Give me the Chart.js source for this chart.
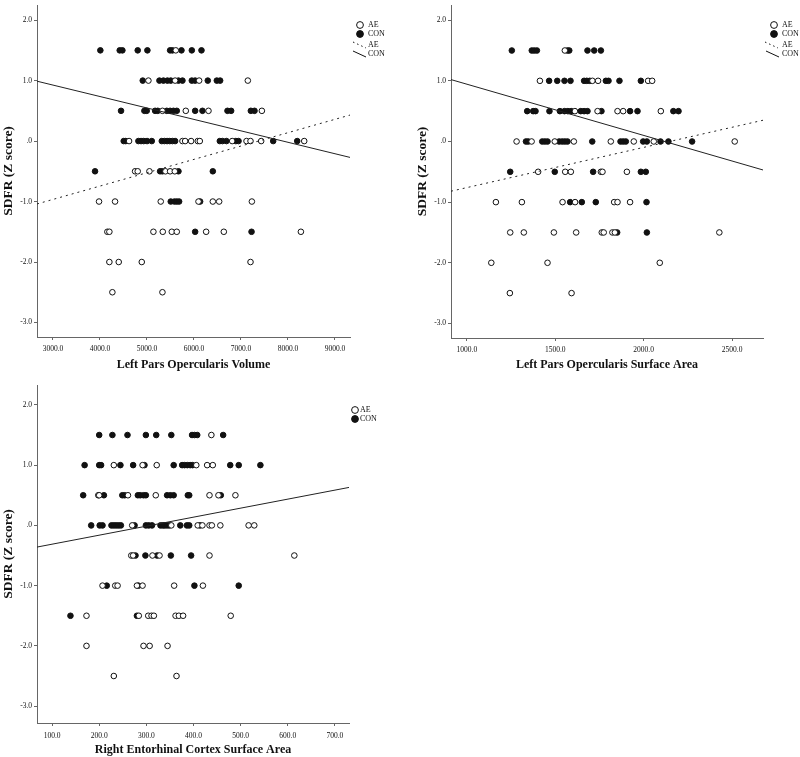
<!DOCTYPE html>
<html>
<head>
<meta charset="utf-8">
<script src="https://cdn.jsdelivr.net/npm/chart.js@4.4.1/dist/chart.umd.min.js"></script>
<style>
  body { margin: 0; background: #fff; }
  .panel { position: absolute; }
</style>
</head>
<body>
<div class="panel" style="left:0;top:0"><canvas id="c1" width="400" height="380"></canvas></div>
<div class="panel" style="left:400px;top:0"><canvas id="c2" width="400" height="380"></canvas></div>
<div class="panel" style="left:0;top:380px"><canvas id="c3" width="400" height="377"></canvas></div>
<script>
// ---- data: [x, SDFR z score] ----
const yTicks = [-3, -2, -1, 0, 1, 2];

// Left Pars Opercularis Volume
const volTicks = [3000, 4000, 5000, 6000, 7000, 8000, 9000];
const volAE = [
  [5613, 1.5],
  [5031, 1], [5599, 1], [6110, 1], [7146, 1],
  [5329, 0.5], [5826, 0.5], [6309, 0.5], [7445, 0.5],
  [4619, 0], [5755, 0], [5812, 0], [5939, 0], [6081, 0], [6124, 0], [6813, 0], [7118, 0], [7203, 0], [7430, 0], [8346, 0],
  [4747, -0.5], [4803, -0.5], [5052, -0.5], [5393, -0.5], [5492, -0.5], [5592, -0.5],
  [3980, -1], [4321, -1], [5293, -1], [6096, -1], [6401, -1], [6536, -1], [7232, -1],
  [4157, -1.5], [4200, -1.5], [5137, -1.5], [5336, -1.5], [5528, -1.5], [5634, -1.5], [6259, -1.5], [6635, -1.5], [8275, -1.5],
  [4200, -2], [4399, -2], [4889, -2], [7203, -2],
  [4264, -2.5], [5329, -2.5]
];
const volCON = [
  [4008, 1.5], [4420, 1.5], [4477, 1.5], [4803, 1.5], [5009, 1.5], [5492, 1.5], [5542, 1.5], [5734, 1.5], [5954, 1.5], [6160, 1.5],
  [4910, 1], [5265, 1], [5350, 1], [5435, 1], [5506, 1], [5670, 1], [5755, 1], [5954, 1], [6025, 1], [6294, 1], [6486, 1], [6557, 1],
  [4448, 0.5], [4945, 0.5], [4995, 0.5], [5173, 0.5], [5229, 0.5], [5421, 0.5], [5492, 0.5], [5563, 0.5], [5634, 0.5], [6025, 0.5], [6181, 0.5], [6713, 0.5], [6791, 0.5], [7210, 0.5], [7288, 0.5],
  [4505, 0], [4548, 0], [4818, 0], [4874, 0], [4931, 0], [5002, 0], [5102, 0], [5315, 0], [5371, 0], [5428, 0], [5485, 0], [5542, 0], [5599, 0], [6550, 0], [6607, 0], [6692, 0], [6891, 0], [6948, 0], [7686, 0], [8197, 0],
  [3895, -0.5], [5279, -0.5], [5329, -0.5], [5670, -0.5], [6401, -0.5],
  [5506, -1], [5584, -1], [5634, -1], [5684, -1], [6131, -1],
  [6025, -1.5], [7225, -1.5]
];
const volFitAE = [[2660, -1.04], [9320, 0.43]];
const volFitCON = [[2660, 0.99], [9320, -0.27]];

// Left Pars Opercularis Surface Area
const areaTicks = [1000, 1500, 2000, 2500];
const areaAE = [
  [1554, 1.5],
  [1413, 1], [1710, 1], [1742, 1], [2025, 1], [2048, 1],
  [1611, 0.5], [1739, 0.5], [1852, 0.5], [1884, 0.5], [2097, 0.5],
  [1281, 0], [1366, 0], [1497, 0], [1605, 0], [1814, 0], [1944, 0], [2057, 0], [2515, 0],
  [1403, -0.5], [1556, -0.5], [1588, -0.5], [1758, -0.5], [1767, -0.5], [1905, -0.5],
  [1164, -1], [1311, -1], [1541, -1], [1612, -1], [1833, -1], [1852, -1], [1923, -1],
  [1245, -1.5], [1322, -1.5], [1492, -1.5], [1618, -1.5], [1763, -1.5], [1774, -1.5], [1823, -1.5], [1837, -1.5], [2428, -1.5],
  [1138, -2], [1456, -2], [2091, -2],
  [1243, -2.5], [1592, -2.5]
];
const areaCON = [
  [1254, 1.5], [1367, 1.5], [1381, 1.5], [1396, 1.5], [1569, 1.5], [1579, 1.5], [1682, 1.5], [1720, 1.5], [1758, 1.5],
  [1465, 1], [1511, 1], [1552, 1], [1586, 1], [1663, 1], [1678, 1], [1695, 1], [1786, 1], [1801, 1], [1863, 1], [1984, 1],
  [1341, 0.5], [1375, 0.5], [1388, 0.5], [1467, 0.5], [1526, 0.5], [1552, 0.5], [1571, 0.5], [1590, 0.5], [1644, 0.5], [1663, 0.5], [1682, 0.5], [1761, 0.5], [1923, 0.5], [1965, 0.5], [2168, 0.5], [2197, 0.5],
  [1334, 0], [1347, 0], [1426, 0], [1441, 0], [1456, 0], [1522, 0], [1539, 0], [1554, 0], [1569, 0], [1709, 0], [1869, 0], [1884, 0], [1899, 0], [1997, 0], [2018, 0], [2095, 0], [2140, 0], [2274, 0],
  [1245, -0.5], [1497, -0.5], [1714, -0.5], [1984, -0.5], [2012, -0.5],
  [1584, -1], [1650, -1], [1729, -1], [2016, -1],
  [1850, -1.5], [2018, -1.5]
];
const areaFitAE = [[910, -0.82], [2675, 0.35]];
const areaFitCON = [[910, 1.02], [2675, -0.47]];

// Right Entorhinal Cortex Surface Area
const entTicks = [100, 200, 300, 400, 500, 600, 700];
const entAE = [
  [438, 1.5],
  [231, 1], [292, 1], [322, 1], [406, 1], [429, 1], [441, 1],
  [198, 0.5], [200, 0.5], [261, 0.5], [320, 0.5], [434, 0.5], [453, 0.5], [489, 0.5],
  [270, 0], [353, 0], [409, 0], [419, 0], [434, 0], [439, 0], [457, 0], [517, 0], [529, 0],
  [268, -0.5], [272, -0.5], [313, -0.5], [328, -0.5], [434, -0.5], [614, -0.5],
  [207, -1], [234, -1], [239, -1], [280, -1], [292, -1], [359, -1], [420, -1],
  [173, -1.5], [284, -1.5], [304, -1.5], [311, -1.5], [316, -1.5], [362, -1.5], [369, -1.5], [378, -1.5], [479, -1.5],
  [173, -2], [294, -2], [307, -2], [345, -2],
  [231, -2.5], [364, -2.5]
];
const entCON = [
  [200, 1.5], [228, 1.5], [260, 1.5], [299, 1.5], [321, 1.5], [353, 1.5], [397, 1.5], [402, 1.5], [408, 1.5], [463, 1.5],
  [169, 1], [200, 1], [204, 1], [245, 1], [272, 1], [296, 1], [358, 1], [376, 1], [381, 1], [387, 1], [393, 1], [398, 1], [478, 1], [496, 1], [542, 1],
  [166, 0.5], [210, 0.5], [249, 0.5], [254, 0.5], [282, 0.5], [287, 0.5], [294, 0.5], [299, 0.5], [344, 0.5], [351, 0.5], [358, 0.5], [388, 0.5], [391, 0.5], [458, 0.5],
  [183, 0], [201, 0], [207, 0], [226, 0], [231, 0], [236, 0], [241, 0], [246, 0], [275, 0], [299, 0], [305, 0], [312, 0], [330, 0], [335, 0], [339, 0], [344, 0], [349, 0], [372, 0], [386, 0], [391, 0], [414, 0],
  [277, -0.5], [298, -0.5], [323, -0.5], [352, -0.5], [395, -0.5],
  [216, -1], [283, -1], [402, -1], [496, -1],
  [139, -1.5], [280, -1.5]
];
const entFit = [[68, -0.36], [730, 0.63]];

// ---- drawing ----
const serif = "'Liberation Serif', 'DejaVu Serif', serif";
const ink = '#111';
const axisGrey = '#666';

const fmt = v => {
  let s = Number(v).toFixed(1);
  if (s === '0.0' || s === '-0.0') s = '.0';
  return s;
};
const pts = arr => arr.map(p => ({ x: p[0], y: p[1] }));

function pointSet(label, arr, filled) {
  return {
    label: label,
    data: pts(arr),
    pointRadius: 2.8,
    pointBorderWidth: 1,
    pointBorderColor: ink,
    pointBackgroundColor: filled ? ink : '#fff',
    showLine: false
  };
}
function fitLine(label, arr, dashed) {
  return {
    label: label,
    data: pts(arr),
    showLine: true,
    borderColor: '#222',
    borderWidth: 1,
    borderDash: dashed ? [2, 4] : [],
    pointRadius: 0
  };
}

// hand drawn SPSS style key
function keyPlugin(items) {
  return {
    id: 'key',
    afterDraw(chart) {
      const c = chart.ctx;
      c.save();
      c.font = '8px ' + serif;
      c.fillStyle = ink;
      c.textBaseline = 'middle';
      items.forEach(it => {
        c.strokeStyle = ink;
        c.lineWidth = 1;
        if (it.kind === 'open' || it.kind === 'fill') {
          c.beginPath();
          c.arc(it.mx, it.y, 3.4, 0, Math.PI * 2);
          c.fillStyle = it.kind === 'fill' ? ink : '#fff';
          c.fill();
          c.stroke();
        } else {
          c.beginPath();
          c.setLineDash(it.kind === 'dash' ? [1.5, 3] : []);
          c.moveTo(it.mx - 7, it.y - 3);
          c.lineTo(it.mx + 6, it.y + 3);
          c.stroke();
          c.setLineDash([]);
        }
        c.fillStyle = ink;
        c.fillText(it.text, it.tx, it.y);
      });
      c.restore();
    }
  };
}

function makeChart(id, opt) {
  new Chart(document.getElementById(id), {
    type: 'scatter',
    data: { datasets: opt.datasets },
    options: {
      responsive: false,
      animation: false,
      layout: { padding: opt.padding },
      plugins: { legend: { display: false }, tooltip: { enabled: false } },
      scales: {
        x: {
          type: 'linear',
          min: opt.xmin, max: opt.xmax,
          afterBuildTicks: s => { s.ticks = opt.xticks.map(v => ({ value: v })); },
          afterFit: s => { s.height = opt.xHeight; },
          grid: { drawOnChartArea: false, drawTicks: true, tickLength: 3, color: axisGrey },
          border: { color: axisGrey, width: 1 },
          ticks: { font: { family: serif, size: 7.5 }, color: ink, padding: opt.tickPad, maxRotation: 0, callback: fmt },
          title: { display: true, text: opt.xtitle, color: ink, font: { family: serif, size: 12, weight: 'bold' }, padding: { top: 0, bottom: opt.titleGap } }
        },
        y: {
          type: 'linear',
          min: opt.ymin, max: opt.ymax,
          afterBuildTicks: s => { s.ticks = yTicks.map(v => ({ value: v })); },
          afterFit: s => { s.width = 37; s.paddingTop = 0; s.paddingBottom = 0; },
          grid: { drawOnChartArea: false, drawTicks: true, tickLength: 3, color: axisGrey },
          border: { color: axisGrey, width: 1 },
          ticks: { font: { family: serif, size: 7.5 }, color: ink, padding: 2, callback: fmt },
          title: { display: true, text: 'SDFR (Z score)', color: ink, font: { family: serif, size: 13.5, weight: 'bold' }, padding: { top: 0, bottom: 0 } }
        }
      }
    },
    plugins: [keyPlugin(opt.key)]
  });
}

makeChart('c1', {
  datasets: [fitLine('AE', volFitAE, true), fitLine('CON', volFitCON, false), pointSet('AE', volAE, false), pointSet('CON', volCON, true)],
  padding: { left: 0, right: 50, top: 0, bottom: 0 },
  xHeight: 43, tickPad: 5, titleGap: 8,
  xmin: 2660, xmax: 9320, ymin: -3.24, ymax: 2.25, xticks: volTicks,
  xtitle: 'Left Pars Opercularis Volume',
  key: [
    { kind: 'open', mx: 360, tx: 368, y: 25, text: 'AE' },
    { kind: 'fill', mx: 360, tx: 368, y: 34, text: 'CON' },
    { kind: 'dash', mx: 360, tx: 368, y: 45, text: 'AE' },
    { kind: 'solid', mx: 360, tx: 368, y: 54, text: 'CON' }
  ]
});

makeChart('c2', {
  datasets: [fitLine('AE', areaFitAE, true), fitLine('CON', areaFitCON, false), pointSet('AE', areaAE, false), pointSet('CON', areaCON, true)],
  padding: { left: 14, right: 37, top: 0, bottom: 0 },
  xHeight: 42, tickPad: 5, titleGap: 8,
  xmin: 910, xmax: 2675, ymin: -3.24, ymax: 2.25, xticks: areaTicks,
  xtitle: 'Left Pars Opercularis Surface Area',
  key: [
    { kind: 'open', mx: 374, tx: 382, y: 25, text: 'AE' },
    { kind: 'fill', mx: 374, tx: 382, y: 34, text: 'CON' },
    { kind: 'dash', mx: 372, tx: 382, y: 45, text: 'AE' },
    { kind: 'solid', mx: 373, tx: 382, y: 54, text: 'CON' }
  ]
});

makeChart('c3', {
  datasets: [fitLine('Fit', entFit, false), pointSet('AE', entAE, false), pointSet('CON', entCON, true)],
  padding: { left: 0, right: 51, top: 1, bottom: 0 },
  xHeight: 34, tickPad: 6, titleGap: 0,
  xmin: 68, xmax: 730, ymin: -3.28, ymax: 2.33, xticks: entTicks,
  xtitle: 'Right Entorhinal Cortex Surface Area',
  key: [
    { kind: 'open', mx: 355, tx: 360, y: 30, text: 'AE' },
    { kind: 'fill', mx: 355, tx: 360, y: 39, text: 'CON' }
  ]
});
</script>
</body>
</html>
